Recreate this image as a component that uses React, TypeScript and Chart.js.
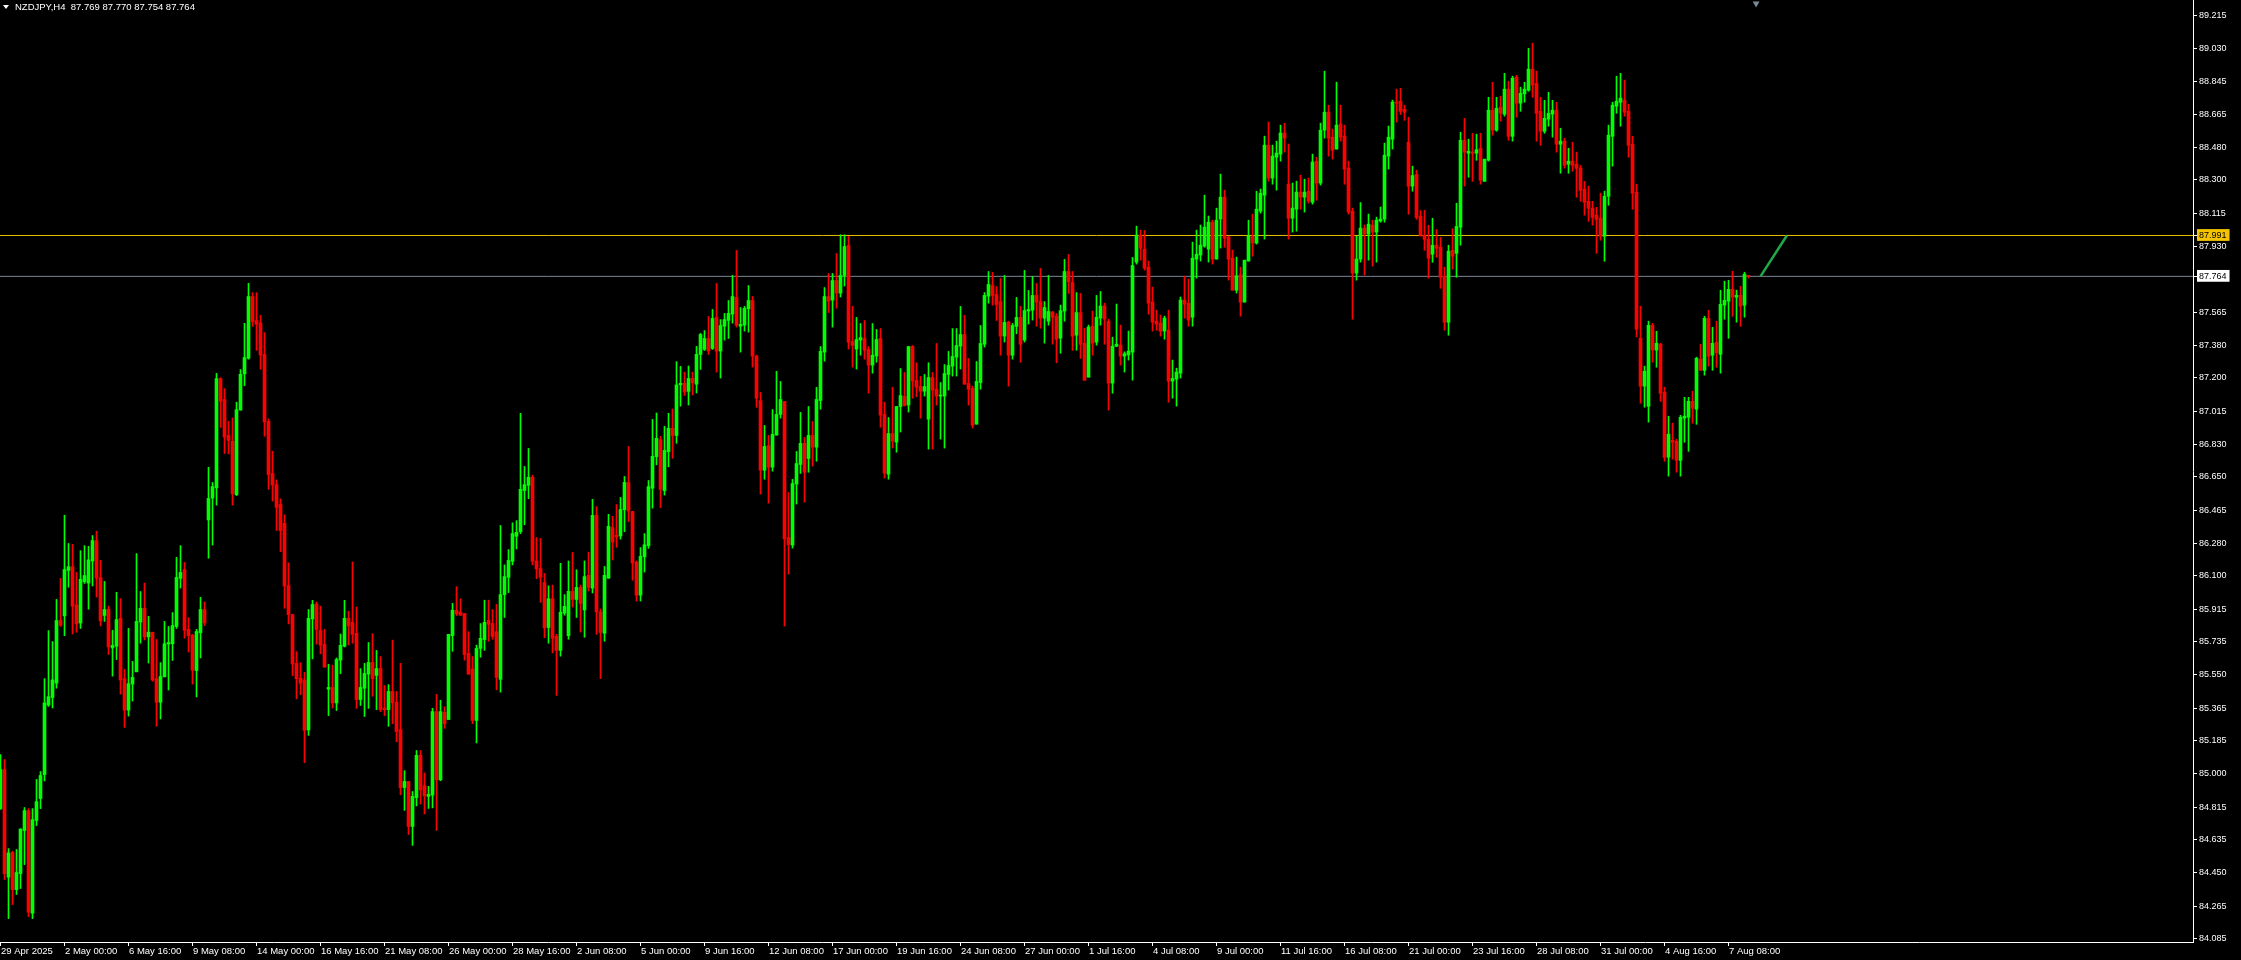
import React, { useEffect, useRef } from "react";
import { Chart, registerables } from "chart.js";

Chart.register(...registerables);

// ---------------- data ----------------
const symbolTitle = "NZDJPY,H4";
const lastQuote = [87.769, 87.77, 87.754, 87.764];

const xTickLabels = [
  "29 Apr 2025", "2 May 00:00", "6 May 16:00", "9 May 08:00", "14 May 00:00", "16 May 16:00",
  "21 May 08:00", "26 May 00:00", "28 May 16:00", "2 Jun 08:00", "5 Jun 00:00", "9 Jun 16:00",
  "12 Jun 08:00", "17 Jun 00:00", "19 Jun 16:00", "24 Jun 08:00", "27 Jun 00:00", "1 Jul 16:00",
  "4 Jul 08:00", "9 Jul 00:00", "11 Jul 16:00", "16 Jul 08:00", "21 Jul 00:00", "23 Jul 16:00",
  "28 Jul 08:00", "31 Jul 00:00", "4 Aug 16:00", "7 Aug 08:00",
];
const barsPerXLabel = 16;

const yTickValues = [
  89.215, 89.03, 88.845, 88.665, 88.48, 88.3, 88.115, 87.93, 87.565, 87.38, 87.2, 87.015,
  86.83, 86.65, 86.465, 86.28, 86.1, 85.915, 85.735, 85.55, 85.365, 85.185, 85.0, 84.815,
  84.635, 84.45, 84.265, 84.085,
];

const alertLevel = 87.991;
const bidLevel = 87.764;
const projectionStart = { x: 440, y: 87.764 };
const projectionEnd = { x: 446.6, y: 87.991 };
const shiftMarker = { x: 438.9, y: 89.28 };

const openP = [
  84.806, 85.024, 84.426, 84.563, 84.357, 84.446, 84.685, 84.796, 84.226, 84.741,
  84.863, 84.996, 85.382, 85.424, 85.504, 85.852, 85.878, 86.130, 86.151, 85.939,
  85.838, 86.067, 86.060, 86.182, 86.296, 86.091, 85.880, 85.915, 85.700, 85.709,
  85.864, 85.529, 85.354, 85.499, 85.567, 85.843, 85.920, 85.761, 85.787, 85.529,
  85.398, 85.539, 85.721, 85.723, 85.819, 86.086, 86.135, 85.803, 85.770, 85.574,
  85.784, 85.913, 86.411, 86.532, 86.589, 87.196, 87.080, 86.881, 86.848, 86.551,
  87.021, 87.222, 87.309, 87.652, 87.519, 87.505, 87.330, 86.958, 86.668, 86.607,
  86.497, 86.392, 86.046, 85.885, 85.614, 85.532, 85.522, 85.244, 85.861, 85.943,
  85.798, 85.719, 85.471, 85.480, 85.394, 85.632, 85.709, 85.864, 85.842, 85.781,
  85.413, 85.476, 85.554, 85.619, 85.547, 85.585, 85.366, 85.357, 85.458, 85.398,
  85.246, 84.924, 84.958, 84.708, 84.868, 85.103, 84.935, 84.875, 84.882, 85.346,
  84.967, 85.342, 85.302, 85.768, 85.909, 85.898, 85.891, 85.670, 85.583, 85.297,
  85.697, 85.746, 85.853, 85.835, 85.790, 85.525, 85.996, 86.092, 86.181, 86.320,
  86.346, 86.574, 86.603, 86.648, 86.183, 86.141, 86.063, 85.813, 85.973, 85.764,
  85.686, 85.893, 85.768, 86.014, 85.969, 86.036, 85.911, 86.103, 86.032, 86.436,
  85.900, 85.781, 86.087, 86.369, 86.326, 86.322, 86.467, 86.619, 86.458, 86.177,
  85.993, 86.206, 86.268, 86.587, 86.762, 86.857, 86.574, 86.790, 86.920, 86.880,
  87.161, 87.170, 87.125, 87.197, 87.165, 87.330, 87.358, 87.419, 87.363, 87.536,
  87.349, 87.487, 87.519, 87.554, 87.647, 87.487, 87.493, 87.584, 87.630, 87.321,
  87.074, 86.687, 86.824, 86.704, 86.882, 86.997, 87.069, 86.313, 86.271, 86.610,
  86.719, 86.836, 86.752, 86.880, 86.815, 87.074, 87.343, 87.652, 87.632, 87.741,
  87.671, 87.769, 87.936, 87.402, 87.360, 87.410, 87.419, 87.358, 87.271, 87.321,
  87.419, 86.997, 86.665, 86.891, 86.843, 87.041, 87.097, 87.049, 87.374, 87.186,
  87.152, 87.126, 86.971, 87.202, 87.136, 87.099, 87.099, 87.219, 87.265, 87.315,
  87.376, 87.441, 87.169, 87.141, 86.943, 87.174, 87.387, 87.654, 87.713, 87.663,
  87.624, 87.432, 87.510, 87.326, 87.486, 87.536, 87.410, 87.571, 87.576, 87.658,
  87.624, 87.532, 87.515, 87.567, 87.543, 87.421, 87.571, 87.791, 87.730, 87.437,
  87.563, 87.393, 87.204, 87.487, 87.399, 87.532, 87.599, 87.515, 87.171, 87.376,
  87.382, 87.321, 87.328, 87.343, 87.843, 87.993, 87.915, 87.815, 87.621, 87.515,
  87.504, 87.460, 87.465, 87.182, 87.193, 87.226, 87.632, 87.615, 87.537, 87.860,
  87.882, 87.932, 87.915, 88.065, 87.860, 88.082, 88.204, 87.982, 87.865, 87.687,
  87.773, 87.621, 87.849, 87.987, 87.949, 88.126, 88.215, 88.493, 88.310, 88.426,
  88.443, 88.560, 88.276, 88.087, 88.137, 88.232, 88.204, 88.237, 88.176, 88.404,
  88.282, 88.576, 88.676, 88.537, 88.471, 88.610, 88.543, 88.365, 88.126, 87.782,
  87.860, 88.032, 87.999, 88.049, 88.010, 88.071, 88.082, 88.432, 88.526, 88.732,
  88.737, 88.692, 88.509, 88.265, 88.331, 88.098, 87.992, 87.970, 87.887, 87.937,
  87.926, 87.765, 87.509, 87.909, 87.892, 88.037, 88.520, 88.448, 88.454, 88.448,
  88.476, 88.292, 88.409, 88.687, 88.576, 88.704, 88.665, 88.804, 88.542, 88.870,
  88.726, 88.778, 88.798, 88.915, 88.837, 88.681, 88.570, 88.637, 88.665, 88.687,
  88.498, 88.515, 88.387, 88.404, 88.387, 88.365, 88.248, 88.181, 88.142, 88.104,
  88.087, 87.987, 88.209, 88.542, 88.709, 88.731, 88.743, 88.681, 88.498, 88.231,
  87.420, 87.154, 87.042, 87.492, 87.354, 87.387, 87.120, 86.759, 86.853, 86.848,
  86.742, 86.976, 86.981, 87.070, 87.026, 87.304, 87.242, 87.531, 87.326, 87.398,
  87.331, 87.604, 87.626, 87.692, 87.648, 87.659, 87.604, 87.769,
];

const highP = [
  85.107, 85.080, 84.585, 84.570, 84.580, 84.696, 84.813, 84.807, 84.807, 84.969,
  85.013, 85.529, 85.796, 85.735, 85.969, 86.086, 86.437, 86.280, 86.275, 86.119,
  86.240, 86.268, 86.264, 86.324, 86.348, 86.186, 86.069, 85.932, 85.798, 86.009,
  85.974, 85.581, 85.808, 85.625, 86.224, 86.013, 86.060, 85.875, 85.787, 85.747,
  85.618, 85.847, 85.819, 85.896, 86.203, 86.268, 86.175, 85.868, 85.775, 85.803,
  85.981, 85.955, 86.703, 86.619, 87.225, 87.201, 87.140, 86.958, 86.977, 87.065,
  87.246, 87.503, 87.725, 87.673, 87.673, 87.547, 87.451, 86.972, 86.792, 86.633,
  86.528, 86.439, 86.172, 85.885, 85.679, 85.618, 85.564, 85.913, 85.964, 85.955,
  85.932, 85.803, 85.609, 85.604, 85.644, 85.777, 85.964, 85.903, 86.177, 85.927,
  85.585, 85.614, 85.730, 85.779, 85.686, 85.652, 85.491, 85.496, 85.743, 85.458,
  85.614, 85.018, 84.958, 84.902, 85.130, 85.130, 85.005, 84.931, 85.364, 85.442,
  85.409, 85.373, 85.775, 85.947, 86.040, 85.973, 85.891, 85.790, 85.652, 85.715,
  85.835, 85.965, 85.965, 85.913, 85.942, 86.380, 86.161, 86.246, 86.395, 86.407,
  87.003, 86.708, 86.808, 86.659, 86.313, 86.308, 86.114, 86.045, 86.049, 85.775,
  86.170, 85.996, 86.183, 86.230, 86.134, 86.049, 86.183, 86.232, 86.525, 86.485,
  85.916, 86.152, 86.442, 86.431, 86.496, 86.536, 86.652, 86.819, 86.458, 86.183,
  86.257, 86.335, 86.630, 86.969, 87.005, 86.875, 86.931, 87.003, 87.027, 87.290,
  87.264, 87.232, 87.266, 87.232, 87.375, 87.447, 87.463, 87.541, 87.580, 87.724,
  87.524, 87.558, 87.630, 87.769, 87.908, 87.591, 87.597, 87.713, 87.652, 87.326,
  87.119, 86.936, 86.880, 87.024, 87.236, 87.180, 87.069, 86.563, 86.636, 86.791,
  87.008, 86.869, 87.041, 86.958, 87.147, 87.374, 87.702, 87.780, 87.780, 87.891,
  87.995, 87.995, 87.986, 87.597, 87.536, 87.502, 87.519, 87.374, 87.502, 87.469,
  87.474, 87.065, 86.980, 87.147, 87.041, 87.252, 87.230, 87.374, 87.380, 87.284,
  87.208, 87.219, 87.284, 87.230, 87.391, 87.174, 87.274, 87.347, 87.474, 87.474,
  87.597, 87.547, 87.308, 87.154, 87.291, 87.491, 87.674, 87.791, 87.786, 87.708,
  87.752, 87.769, 87.515, 87.502, 87.647, 87.597, 87.797, 87.686, 87.763, 87.724,
  87.808, 87.624, 87.769, 87.567, 87.558, 87.604, 87.858, 87.886, 87.791, 87.674,
  87.669, 87.476, 87.493, 87.571, 87.658, 87.680, 87.615, 87.526, 87.426, 87.610,
  87.493, 87.345, 87.460, 87.869, 88.043, 88.021, 88.019, 87.849, 87.704, 87.576,
  87.549, 87.543, 87.576, 87.299, 87.254, 87.649, 87.765, 87.749, 87.954, 88.021,
  88.049, 88.215, 88.099, 88.076, 88.143, 88.332, 88.243, 87.987, 87.910, 87.871,
  87.815, 87.854, 88.076, 88.110, 88.237, 88.249, 88.543, 88.621, 88.493, 88.515,
  88.604, 88.615, 88.499, 88.282, 88.293, 88.326, 88.304, 88.310, 88.443, 88.426,
  88.615, 88.904, 88.715, 88.582, 88.843, 88.715, 88.604, 88.404, 88.143, 87.987,
  88.174, 88.049, 88.110, 88.076, 88.093, 88.149, 88.504, 88.599, 88.743, 88.804,
  88.809, 88.715, 88.648, 88.376, 88.354, 88.129, 88.131, 88.048, 88.087, 88.024,
  87.981, 87.815, 87.937, 88.029, 88.170, 88.565, 88.642, 88.526, 88.559, 88.554,
  88.559, 88.415, 88.759, 88.842, 88.759, 88.765, 88.892, 88.848, 88.876, 88.881,
  88.815, 88.842, 89.031, 89.059, 88.904, 88.759, 88.742, 88.787, 88.742, 88.731,
  88.587, 88.531, 88.476, 88.509, 88.454, 88.381, 88.292, 88.265, 88.181, 88.148,
  88.226, 88.237, 88.604, 88.731, 88.876, 88.892, 88.854, 88.720, 88.542, 88.276,
  87.598, 87.265, 87.515, 87.503, 87.459, 87.392, 87.148, 86.987, 86.948, 86.859,
  86.992, 87.092, 87.092, 87.126, 87.315, 87.387, 87.542, 87.576, 87.481, 87.515,
  87.687, 87.737, 87.742, 87.792, 87.687, 87.709, 87.787, 87.770,
];

const lowP = [
  84.802, 84.413, 84.196, 84.274, 84.330, 84.363, 84.496, 84.207, 84.196, 84.713,
  84.807, 84.961, 85.375, 85.366, 85.476, 85.819, 85.768, 86.037, 85.777, 85.787,
  85.808, 86.058, 85.915, 86.044, 85.983, 85.822, 85.847, 85.663, 85.543, 85.635,
  85.443, 85.258, 85.321, 85.405, 85.567, 85.726, 85.744, 85.616, 85.515, 85.265,
  85.305, 85.539, 85.466, 85.630, 85.808, 86.032, 85.754, 85.677, 85.499, 85.427,
  85.644, 85.824, 86.198, 86.271, 86.493, 86.925, 86.780, 86.778, 86.493, 86.546,
  87.021, 87.157, 87.304, 87.486, 87.353, 87.248, 86.876, 86.581, 86.516, 86.352,
  86.235, 85.920, 85.833, 85.546, 85.417, 85.440, 85.062, 85.214, 85.639, 85.721,
  85.667, 85.593, 85.324, 85.366, 85.352, 85.557, 85.705, 85.716, 85.726, 85.364,
  85.380, 85.319, 85.364, 85.431, 85.357, 85.346, 85.324, 85.264, 85.279, 85.179,
  84.884, 84.797, 84.663, 84.603, 84.822, 84.833, 84.777, 84.808, 84.811, 84.686,
  84.962, 85.253, 85.302, 85.681, 85.880, 85.880, 85.632, 85.554, 85.279, 85.172,
  85.648, 85.686, 85.737, 85.748, 85.467, 85.454, 85.869, 86.007, 86.161, 86.250,
  86.335, 86.384, 86.529, 86.161, 86.085, 85.953, 85.757, 85.726, 85.672, 85.436,
  85.654, 85.882, 85.748, 85.927, 85.869, 85.788, 85.759, 86.016, 86.005, 85.775,
  85.529, 85.737, 86.087, 86.188, 86.259, 86.304, 86.346, 86.402, 86.076, 85.960,
  85.960, 86.121, 86.253, 86.476, 86.717, 86.480, 86.549, 86.706, 86.753, 86.837,
  87.043, 87.103, 87.049, 87.105, 87.116, 87.247, 87.352, 87.330, 87.358, 87.232,
  87.199, 87.410, 87.419, 87.504, 87.482, 87.343, 87.460, 87.454, 87.260, 87.037,
  86.554, 86.637, 86.504, 86.682, 86.882, 86.976, 85.821, 86.110, 86.254, 86.499,
  86.669, 86.510, 86.676, 86.710, 86.737, 87.026, 87.293, 87.563, 87.482, 87.587,
  87.649, 87.710, 87.360, 87.260, 87.249, 87.326, 87.304, 87.115, 87.226, 87.287,
  86.926, 86.643, 86.637, 86.810, 86.787, 86.899, 87.043, 87.010, 87.087, 87.095,
  86.976, 87.099, 86.804, 86.804, 87.049, 86.860, 86.810, 87.132, 87.210, 87.210,
  87.249, 87.165, 87.049, 86.921, 86.943, 87.137, 87.371, 87.615, 87.604, 87.519,
  87.326, 87.399, 87.154, 87.304, 87.445, 87.287, 87.399, 87.499, 87.521, 87.487,
  87.476, 87.393, 87.493, 87.387, 87.284, 87.337, 87.515, 87.669, 87.352, 87.354,
  87.308, 87.187, 87.204, 87.326, 87.382, 87.493, 87.387, 87.021, 87.115, 87.373,
  87.271, 87.232, 87.299, 87.187, 87.832, 87.854, 87.799, 87.554, 87.460, 87.465,
  87.432, 87.415, 87.065, 87.087, 87.043, 87.199, 87.532, 87.487, 87.487, 87.754,
  87.849, 87.926, 87.843, 87.832, 87.860, 87.921, 87.926, 87.743, 87.687, 87.671,
  87.543, 87.621, 87.849, 87.876, 87.943, 88.115, 87.971, 88.293, 88.276, 88.243,
  88.404, 88.454, 87.971, 88.010, 88.015, 88.137, 88.121, 88.171, 88.165, 88.187,
  88.271, 88.532, 88.432, 88.415, 88.471, 88.515, 88.276, 88.110, 87.526, 87.743,
  87.843, 87.771, 87.854, 87.821, 87.843, 88.065, 88.065, 88.360, 88.471, 88.621,
  88.663, 88.631, 88.109, 88.237, 88.081, 87.987, 87.909, 87.754, 87.842, 87.870,
  87.698, 87.465, 87.437, 87.804, 87.759, 87.937, 88.265, 88.315, 88.292, 88.409,
  88.276, 88.292, 88.404, 88.548, 88.570, 88.626, 88.654, 88.520, 88.515, 88.648,
  88.681, 88.731, 88.792, 88.759, 88.515, 88.492, 88.559, 88.598, 88.537, 88.454,
  88.337, 88.365, 88.337, 88.348, 88.204, 88.181, 88.104, 88.070, 88.048, 87.892,
  87.965, 87.848, 88.159, 88.376, 88.670, 88.598, 88.654, 88.426, 88.137, 87.428,
  87.059, 87.037, 86.954, 87.287, 87.259, 87.070, 86.737, 86.654, 86.748, 86.676,
  86.654, 86.842, 86.792, 86.948, 86.942, 87.242, 87.215, 87.265, 87.242, 87.259,
  87.226, 87.526, 87.420, 87.542, 87.509, 87.487, 87.537, 87.754,
];

const closeP = [
  85.024, 84.446, 84.561, 84.357, 84.452, 84.693, 84.796, 84.232, 84.746, 84.846,
  84.991, 85.394, 85.429, 85.522, 85.852, 85.826, 86.135, 86.151, 85.932, 85.833,
  86.081, 86.102, 86.189, 86.296, 86.088, 85.850, 85.913, 85.705, 85.714, 85.857,
  85.522, 85.354, 85.501, 85.536, 85.847, 85.920, 85.761, 85.787, 85.522, 85.398,
  85.541, 85.723, 85.730, 85.824, 86.091, 86.119, 85.798, 85.768, 85.576, 85.791,
  85.913, 85.838, 86.530, 86.596, 87.196, 87.070, 86.871, 86.853, 86.556, 87.023,
  87.220, 87.313, 87.652, 87.512, 87.498, 87.327, 86.956, 86.663, 86.605, 86.481,
  86.352, 86.044, 85.885, 85.611, 85.529, 85.504, 85.242, 85.864, 85.941, 85.803,
  85.716, 85.593, 85.480, 85.394, 85.635, 85.714, 85.864, 85.822, 85.775, 85.413,
  85.480, 85.558, 85.619, 85.529, 85.585, 85.357, 85.357, 85.458, 85.395, 85.235,
  84.924, 84.958, 84.708, 84.875, 85.103, 84.911, 84.877, 84.886, 85.346, 84.967,
  85.346, 85.279, 85.775, 85.909, 85.889, 85.882, 85.663, 85.554, 85.297, 85.697,
  85.753, 85.842, 85.831, 85.764, 85.536, 85.996, 86.096, 86.186, 86.335, 86.342,
  86.581, 86.607, 86.648, 86.181, 86.139, 86.092, 85.811, 85.973, 85.753, 85.686,
  85.898, 85.931, 86.014, 85.969, 86.036, 85.947, 86.096, 86.036, 86.436, 85.900,
  85.786, 86.103, 86.375, 86.288, 86.317, 86.469, 86.619, 86.460, 86.172, 85.993,
  86.208, 86.273, 86.596, 86.764, 86.864, 86.581, 86.797, 86.920, 86.880, 87.161,
  87.170, 87.121, 87.197, 87.172, 87.331, 87.441, 87.419, 87.349, 87.530, 87.349,
  87.491, 87.524, 87.558, 87.652, 87.493, 87.497, 87.586, 87.630, 87.321, 87.087,
  86.687, 86.819, 86.704, 86.886, 86.997, 87.080, 86.306, 86.274, 86.613, 86.724,
  86.836, 86.676, 86.880, 86.815, 87.080, 87.347, 87.652, 87.626, 87.741, 87.671,
  87.769, 87.930, 87.399, 87.380, 87.413, 87.424, 87.354, 87.271, 87.326, 87.413,
  86.993, 86.671, 86.891, 86.849, 87.041, 87.102, 87.047, 87.374, 87.182, 87.149,
  87.126, 87.152, 87.202, 87.132, 87.099, 87.104, 87.224, 87.269, 87.319, 87.380,
  87.441, 87.165, 87.137, 86.937, 87.180, 87.391, 87.658, 87.719, 87.658, 87.608,
  87.432, 87.508, 87.326, 87.491, 87.536, 87.387, 87.574, 87.580, 87.658, 87.621,
  87.532, 87.591, 87.569, 87.537, 87.415, 87.573, 87.791, 87.734, 87.432, 87.563,
  87.387, 87.187, 87.482, 87.393, 87.537, 87.599, 87.526, 87.171, 87.376, 87.387,
  87.321, 87.334, 87.349, 87.824, 87.993, 87.921, 87.810, 87.615, 87.510, 87.499,
  87.460, 87.532, 87.182, 87.197, 87.232, 87.632, 87.610, 87.521, 87.865, 87.887,
  87.937, 88.037, 88.065, 87.860, 88.076, 88.204, 87.976, 87.860, 87.687, 87.767,
  87.621, 87.854, 87.987, 87.949, 88.137, 88.226, 88.493, 88.310, 88.432, 88.449,
  88.560, 88.532, 88.087, 88.143, 88.232, 88.204, 88.232, 88.182, 88.399, 88.282,
  88.576, 88.676, 88.532, 88.465, 88.604, 88.537, 88.360, 88.121, 87.782, 87.860,
  88.032, 87.999, 88.054, 88.010, 88.076, 88.082, 88.437, 88.537, 88.732, 88.726,
  88.681, 88.676, 88.265, 88.324, 88.091, 87.992, 87.970, 87.865, 87.937, 87.920,
  87.759, 87.509, 87.904, 87.876, 88.041, 88.520, 88.454, 88.459, 88.448, 88.468,
  88.298, 88.415, 88.687, 88.576, 88.698, 88.670, 88.804, 88.542, 88.865, 88.726,
  88.781, 88.804, 88.915, 88.826, 88.670, 88.570, 88.642, 88.670, 88.687, 88.498,
  88.515, 88.381, 88.404, 88.381, 88.365, 88.242, 88.176, 88.142, 88.092, 88.081,
  87.987, 88.209, 88.548, 88.715, 88.737, 88.754, 88.676, 88.492, 88.226, 87.470,
  87.154, 87.237, 87.492, 87.354, 87.392, 87.115, 86.759, 86.887, 86.842, 86.742,
  86.981, 86.987, 87.070, 87.031, 87.309, 87.242, 87.531, 87.320, 87.392, 87.339,
  87.609, 87.631, 87.692, 87.648, 87.659, 87.598, 87.776, 87.764,
];

// ---------------- view constants ----------------
const X_MIN = -0.125;
const X_MAX = 548.125;
const Y_MIN = 84.066;
const Y_MAX = 89.2993;
const FONT = "'Liberation Sans', Arial, sans-serif";
const UP = "#00ff00";
const DOWN = "#ff0000";
const bottomYTick = yTickValues[yTickValues.length - 1];

export default function App() {
  const ref = useRef<HTMLCanvasElement | null>(null);

  useEffect(() => {
    document.body.style.margin = "0";
    document.body.style.background = "#000";
    const canvas = ref.current;
    if (!canvas) return;

    const idx = closeP.map((_, i) => i);
    const colors = idx.map((i) => (closeP[i] >= openP[i] ? UP : DOWN));

    const chart = new Chart(canvas, {
      type: "bar",
      data: {
        datasets: [
          {
            type: "bar",
            label: "body",
            data: idx.map((i) => ({ x: i, y: [openP[i], closeP[i]] })) as any,
            backgroundColor: colors,
            barThickness: 3,
            grouped: false,
            minBarLength: 1,
            borderWidth: 0,
            order: 0,
          } as any,
          {
            type: "bar",
            label: "wick",
            data: idx.map((i) => ({ x: i, y: [lowP[i], highP[i]] })) as any,
            backgroundColor: colors,
            barThickness: 1,
            grouped: false,
            minBarLength: 1,
            borderWidth: 0,
            order: 1,
          } as any,
          {
            type: "line",
            label: "alert",
            data: [
              { x: X_MIN, y: alertLevel },
              { x: X_MAX, y: alertLevel },
            ],
            borderColor: "#e8c000",
            borderWidth: 1,
            pointRadius: 0,
            order: 4,
          } as any,
          {
            type: "line",
            label: "bid",
            data: [
              { x: X_MIN, y: bidLevel },
              { x: X_MAX, y: bidLevel },
            ],
            borderColor: "#7a8694",
            borderWidth: 1,
            pointRadius: 0,
            order: 4,
          } as any,
          {
            type: "line",
            label: "projection",
            data: [projectionStart, projectionEnd],
            borderColor: "#21a847",
            borderWidth: 2.5,
            pointRadius: 0,
            order: 2,
          } as any,
          {
            type: "scatter",
            label: "shift",
            data: [shiftMarker],
            pointStyle: "triangle",
            pointRotation: 180,
            pointRadius: 4,
            pointBackgroundColor: "#7b8898",
            pointBorderWidth: 0,
            clip: false,
            order: 2,
          } as any,
        ],
      },
      options: {
        responsive: false,
        animation: false,
        devicePixelRatio: 1,
        events: [],
        layout: { padding: 0, autoPadding: false },
        plugins: {
          legend: { display: false },
          tooltip: { enabled: false },
          title: { display: false },
        },
        scales: {
          x: {
            type: "linear",
            position: "bottom",
            min: X_MIN,
            max: X_MAX,
            bounds: "data",
            offset: false,
            grid: {
              display: true,
              drawOnChartArea: false,
              drawTicks: true,
              tickLength: 4,
              color: "#ffffff",
              offset: false,
            },
            border: { display: true, color: "#ffffff", width: 1 },
            ticks: {
              autoSkip: false,
              maxRotation: 0,
              minRotation: 0,
              align: "start",
              padding: 0,
              labelOffset: 1,
              color: "#ffffff",
              font: { family: FONT, size: 9.5 },
              callback: (_v: any, i: number) => xTickLabels[i] ?? "",
            },
            afterBuildTicks: (s: any) => {
              s.ticks = xTickLabels.map((_, k) => ({ value: k * barsPerXLabel + X_MIN }));
            },
            afterFit: (s: any) => {
              s.height = 18;
              s.paddingLeft = 0;
              s.paddingRight = 0;
            },
          } as any,
          y: {
            type: "linear",
            position: "right",
            min: Y_MIN,
            max: Y_MAX,
            bounds: "data",
            grid: {
              display: true,
              drawOnChartArea: false,
              drawTicks: true,
              tickLength: 4,
              color: "#ffffff",
            },
            border: { display: true, color: "#ffffff", width: 1 },
            ticks: {
              autoSkip: false,
              padding: 2,
              font: { family: FONT, size: 9 },
              labelOffset: (c: any) => (c?.tick?.value === bottomYTick ? -7 : 0),
              color: (c: any) => {
                const v = c?.tick?.value;
                return v === alertLevel || v === bidLevel ? "#000000" : "#ffffff";
              },
              showLabelBackdrop: (c: any) => {
                const v = c?.tick?.value;
                return v === alertLevel || v === bidLevel;
              },
              backdropColor: (c: any) => (c?.tick?.value === alertLevel ? "#f5c400" : "#ffffff"),
              backdropPadding: { top: 1, bottom: 0, left: 2, right: 3 },
              callback: (v: any) => Number(v).toFixed(3),
            },
            afterBuildTicks: (s: any) => {
              s.ticks = [...yTickValues, alertLevel, bidLevel].map((v) => ({ value: v }));
            },
            afterFit: (s: any) => {
              s.width = 48;
              s.paddingTop = 0;
              s.paddingBottom = 0;
            },
          } as any,
        },
      } as any,
    });

    return () => chart.destroy();
  }, []);

  const header = `${symbolTitle}  ${lastQuote.map((v) => v.toFixed(3)).join(" ")}`;

  return (
    <div style={{ position: "relative", width: 2241, height: 960, background: "#000", overflow: "hidden" }}>
      <canvas ref={ref} width={2241} height={960} style={{ display: "block", width: 2241, height: 960 }} />
      <div
        style={{
          position: "absolute",
          left: 3,
          top: 5,
          width: 0,
          height: 0,
          borderLeft: "3px solid transparent",
          borderRight: "3px solid transparent",
          borderTop: "4px solid #ffffff",
        }}
      />
      <div
        style={{
          position: "absolute",
          left: 15,
          top: 1,
          fontFamily: FONT,
          fontSize: 9.5,
          lineHeight: "11px",
          color: "#ffffff",
          whiteSpace: "pre",
        }}
      >
        {header}
      </div>
    </div>
  );
}
